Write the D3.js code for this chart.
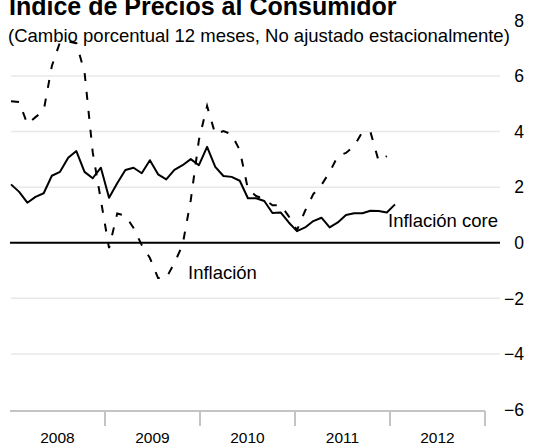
<!DOCTYPE html>
<html><head><meta charset="utf-8">
<script src="https://cdn.jsdelivr.net/npm/d3@7"></script>
<style>body{margin:0;background:#fff}svg{display:block;font-family:"Liberation Sans",Arial,sans-serif}</style>
</head><body>
<svg id="chart" width="539" height="447"></svg>
<script>
const coreValues = [2.10, 1.83, 1.44, 1.65, 1.78, 2.41, 2.55, 3.06, 3.30, 2.55, 2.32, 2.70,
  1.62, 2.14, 2.62, 2.70, 2.50, 2.97, 2.46, 2.28, 2.62, 2.79, 3.01, 2.79,
  3.45, 2.73, 2.40, 2.37, 2.23, 1.60, 1.60, 1.50, 1.07, 1.09, 0.73, 0.42,
  0.55, 0.78, 0.90, 0.55, 0.73, 1.00, 1.06, 1.06, 1.15, 1.14, 1.09, 1.38];
const inflationValues = [5.09, 5.06, 4.27, 4.52, 4.75, 6.36, 7.22, 7.24, 7.18, 6.14, 3.26, 1.53,
  -0.19, 1.05, 0.98, 0.53, -0.08, -0.55, -1.27, -1.27, -0.73, -0.08, 1.53, 3.70,
  4.92, 3.91, 4.02, 3.90, 3.33, 1.93, 1.68, 1.57, 1.35, 1.35, 0.95, 0.45,
  1.15, 1.75, 2.08, 2.54, 3.12, 3.23, 3.48, 3.98, 3.98, 2.94, 3.12];
const years = ["2008", "2009", "2010", "2011", "2012"];
const yTicks = [-6, -4, -2, 0, 2, 4, 6, 8];
const gridValues = [-4, -2, 2, 4, 6];
const titleText = "Indice de Precios al Consumidor";
const subtitleText = "(Cambio porcentual 12 meses, No ajustado estacionalmente)";
const seriesLabels = {inflation: "Inflación", core: "Inflación core"};

const svg = d3.select("#chart");
const x = d3.scaleLinear().domain([0, 47]).range([11, 395]);
const y = d3.scaleLinear().domain([-6, 8]).range([409.5, 20.4]);
const xYear = d3.scaleBand().domain(years).range([10, 485]);

// gridlines
svg.append("g").selectAll("line").data(gridValues).join("line")
  .attr("x1", 11).attr("x2", 500)
  .attr("y1", d => y(d)).attr("y2", d => y(d))
  .attr("stroke", "#e8e8e8").attr("stroke-width", 1.5);

// zero line
svg.append("line").attr("x1", 10).attr("x2", 500)
  .attr("y1", y(0)).attr("y2", y(0))
  .attr("stroke", "#000").attr("stroke-width", 2);

// bottom axis
const axisG = svg.append("g").attr("transform", `translate(0,${y(-6) + 1.5})`);
axisG.append("line").attr("x1", 10).attr("x2", 485)
  .attr("stroke", "#c4c4c4").attr("stroke-width", 2);
axisG.selectAll(".tk").data(years).join("line").attr("class", "tk")
  .attr("x1", d => xYear(d) + xYear.bandwidth()).attr("x2", d => xYear(d) + xYear.bandwidth())
  .attr("y1", 0).attr("y2", 15)
  .attr("stroke", "#c4c4c4").attr("stroke-width", 2);
axisG.selectAll("text").data(years).join("text")
  .attr("x", d => xYear(d) + xYear.bandwidth() / 2)
  .attr("y", 32)
  .attr("text-anchor", "middle").attr("font-size", 15.5).attr("fill", "#000")
  .text(d => d);

// y labels
svg.append("g").selectAll("text").data(yTicks).join("text")
  .attr("x", 524).attr("y", d => y(d)).attr("dy", "0.36em")
  .attr("text-anchor", "end").attr("font-size", 17.5).attr("fill", "#000")
  .text(d => d3.format("d")(d));

// lines
const line = d3.line().x((d, i) => x(i)).y(d => y(d));
svg.append("path").datum(inflationValues).attr("d", line)
  .attr("fill", "none").attr("stroke", "#000").attr("stroke-width", 2)
  .attr("stroke-dasharray", "8,11");
svg.append("path").datum(coreValues).attr("d", line)
  .attr("fill", "none").attr("stroke", "#000").attr("stroke-width", 2)
  .attr("stroke-linejoin", "round");

// series labels
svg.append("text").attr("x", 188).attr("y", 278.5).attr("font-size", 18.5).text(seriesLabels.inflation);
svg.append("text").attr("x", 388).attr("y", 226.5).attr("font-size", 18.5).text(seriesLabels.core);

// titles
svg.append("text").attr("x", 9).attr("y", 15).attr("font-size", 25).attr("font-weight", "bold").text(titleText);
svg.append("text").attr("x", 8).attr("y", 42).attr("font-size", 18.5).text(subtitleText);
</script>
</body></html>
